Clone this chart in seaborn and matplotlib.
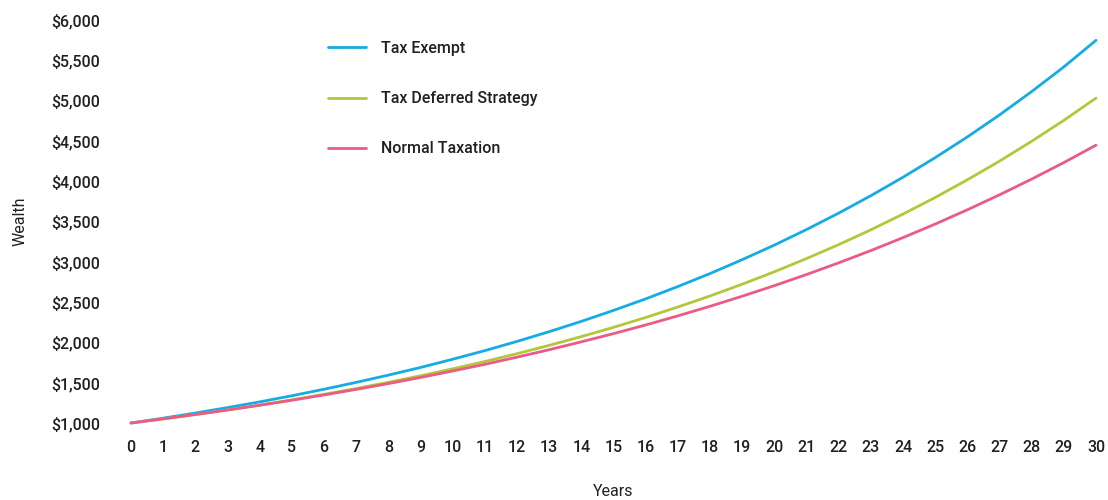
import matplotlib
matplotlib.use("Agg")
import matplotlib.pyplot as plt
import seaborn as sns
import pandas as pd
from matplotlib.ticker import FuncFormatter, MultipleLocator

# Growth of $1,000 over 30 years under three tax treatments
years = list(range(31))
tax_exempt = [1000, 1060, 1124, 1191, 1262, 1338, 1419, 1504, 1594, 1689, 1791,
              1898, 2012, 2133, 2261, 2397, 2540, 2693, 2854, 3026, 3207,
              3400, 3604, 3820, 4049, 4292, 4549, 4822, 5112, 5418, 5748]
tax_deferred = [1000, 1051, 1105, 1162, 1223, 1287, 1356, 1428, 1505, 1586, 1672,
                1763, 1860, 1963, 2072, 2187, 2309, 2439, 2576, 2722, 2876,
                3040, 3213, 3397, 3592, 3798, 4017, 4249, 4495, 4755, 5031]
normal_tax = [1000, 1051, 1105, 1161, 1220, 1282, 1348, 1417, 1489, 1565, 1645,
              1728, 1817, 1909, 2007, 2109, 2216, 2329, 2448, 2573, 2704,
              2842, 2987, 3139, 3300, 3468, 3645, 3831, 4026, 4231, 4447]
series_names = ["Tax Exempt", "Tax Deferred Strategy", "Normal Taxation"]
colors = ["#15ACE6", "#B2C83A", "#EC5A86"]

df = pd.DataFrame({
    "Years": years * 3,
    "Wealth": tax_exempt + tax_deferred + normal_tax,
    "Series": sum([[n] * len(years) for n in series_names], []),
})

sns.set_theme(style="white")
plt.rcParams["font.family"] = ["Roboto", "DejaVu Sans"]
plt.rcParams["font.weight"] = "medium"
text_color = "#231F20"

fig = plt.figure(figsize=(11.08, 5.0), dpi=100)
ax = fig.add_axes([131 / 1108, 77 / 500, 965 / 1108, 403 / 500])

sns.lineplot(data=df, x="Years", y="Wealth", hue="Series",
             hue_order=series_names, palette=colors, linewidth=2.0,
             ax=ax, clip_on=False)

ax.set_xlim(0, 30)
ax.set_ylim(1000, 6000)
ax.xaxis.set_major_locator(MultipleLocator(1))
ax.yaxis.set_major_locator(MultipleLocator(500))
ax.yaxis.set_major_formatter(FuncFormatter(lambda v, p: f"${v:,.0f}"))
ax.tick_params(axis="x", length=0, pad=12, labelsize=11.5, labelcolor=text_color)
ax.tick_params(axis="y", length=0, pad=22, labelsize=11.5, labelcolor=text_color)
for s in ax.spines.values():
    s.set_visible(False)

ax.set_xlabel("Years", fontsize=11.5, color=text_color, labelpad=21)
ax.set_ylabel("Wealth", fontsize=11.5, color=text_color, labelpad=17)

handles, labels = ax.get_legend_handles_labels()
ax.legend(handles, labels, loc="upper left", frameon=False,
          bbox_to_anchor=(328 / 1108, 1 - 41 / 500), bbox_transform=fig.transFigure,
          borderpad=0, borderaxespad=0, fontsize=11.5, labelcolor=text_color,
          handlelength=2.4, handletextpad=0.9, labelspacing=2.2)

fig.savefig("out.png", dpi=100)
